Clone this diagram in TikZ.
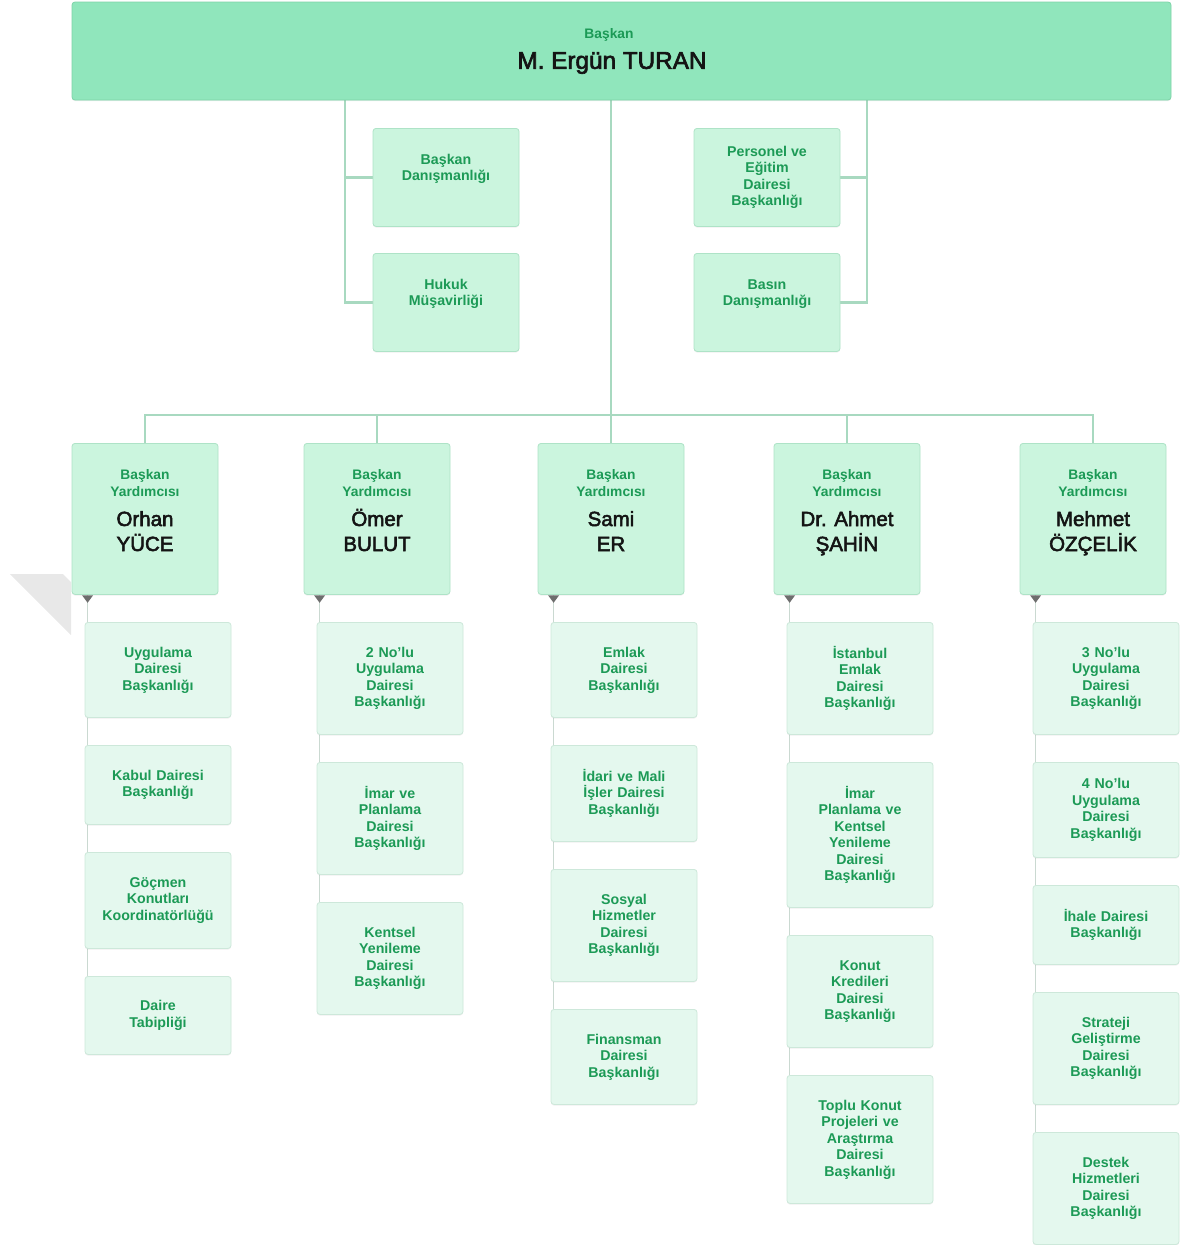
\documentclass[tikz,border=0pt]{standalone}
\usepackage{fontspec}
\setmainfont{Liberation Sans}
\newfontfamily\namefont[FakeBold=2.6]{Liberation Sans}
\usetikzlibrary{backgrounds,shadows}
\definecolor{topfill}{HTML}{90E6BC}
\definecolor{topborder}{HTML}{7DD3A8}
\definecolor{midfill}{HTML}{CBF5DE}
\definecolor{midborder}{HTML}{AEE3C7}
\definecolor{subfill}{HTML}{E4F8EE}
\definecolor{subborder}{HTML}{CDE8DA}
\definecolor{txtgreen}{HTML}{1C9A56}
\definecolor{namecol}{HTML}{141414}
\definecolor{linkcol}{HTML}{A8D9C0}
\definecolor{chaincol}{HTML}{CAD9D1}
\definecolor{tricol}{HTML}{6E6E6E}
\definecolor{ghost}{HTML}{E8E8E8}
\tikzset{
  box/.style={draw, rounded corners=3pt, line width=0.8pt, inner sep=0pt,
    drop shadow={shadow xshift=0pt, shadow yshift=-1.2pt, opacity=0.12}},
  topbox/.style={box, fill=topfill, draw=topborder, minimum width=1099pt, minimum height=98pt},
  staffbox/.style={box, fill=midfill, draw=midborder, minimum width=146pt, minimum height=98pt, anchor=north},
  vpbox/.style={box, fill=midfill, draw=midborder, minimum width=146pt, minimum height=151pt, anchor=north},
  subbox/.style={box, fill=subfill, draw=subborder, minimum width=146pt, text width=140pt,
    align=center, anchor=north, text=txtgreen, font=\bfseries\fontsize{14.2}{16.5}\selectfont},
  txt/.style={align=center, text=txtgreen, inner sep=0pt, font=\bfseries\fontsize{14.2}{16.5}\selectfont},
  smalltxt/.style={align=center, text=txtgreen, inner sep=0pt, font=\bfseries\fontsize{13.8}{16.5}\selectfont},
  nametxt/.style={align=center, text=namecol, inner sep=0pt, font=\namefont\fontsize{20.5}{25}\selectfont},
  link/.style={draw=linkcol, line width=2.5pt},
  chain/.style={draw=chaincol, line width=1.6pt},
}
\begin{document}
\begin{tikzpicture}[x=1pt, y=-1pt]
\useasboundingbox (0,0) rectangle (1185,1245);
\fill[ghost] (10,574) -- (63,574) -- (71,582) -- (71,635) -- cycle;

% top
\node[topbox] (top) at (621.5,51) {};
\node[smalltxt] (toplbl) at (609,35) {Başkan};
\node[nametxt, font=\namefont\fontsize{24.3}{28}\selectfont] (topname) at (612,63) {M. Ergün TURAN};

% staff
\node[staffbox] (bd) at (446,128) {};
\node[txt] (bdt) at (446,169) {Başkan\\Danışmanlığı};
\node[staffbox] (hk) at (446,253) {};
\node[txt] (hkt) at (446,294) {Hukuk\\Müşavirliği};
\node[staffbox] (per) at (767,128) {};
\node[txt] (pert) at (767,177.5) {Personel ve\\Eğitim\\Dairesi\\Başkanlığı};
\node[staffbox] (bas) at (767,253) {};
\node[txt] (bast) at (767,294) {Basın\\Danışmanlığı};

% VPs
\foreach \n/\x/\na/\nb in {1/145/Orhan/YÜCE, 2/377/Ömer/BULUT, 3/611/Sami/ER, 4/847/Dr. Ahmet/ŞAHİN, 5/1093/Mehmet/ÖZÇELİK}{
  \node[vpbox] (vp\n) at (\x,443) {};
  \node[smalltxt] (vpl\n) at (\x,483) {Başkan\\Yardımcısı};
  \node[nametxt, anchor=base] (vpa\n) at (\x,526) {\na};
  \node[nametxt, anchor=base] (vpb\n) at (\x,551) {\nb};
}

% column 1
\node[subbox, minimum height=95pt] (c1a) at (158,622) {Uygulama\\Dairesi\\Başkanlığı};
\node[subbox, minimum height=79pt] (c1b) at (158,745) {Kabul Dairesi\\Başkanlığı};
\node[subbox, minimum height=96pt] (c1c) at (158,852) {Göçmen\\Konutları\\Koordinatörlüğü};
\node[subbox, minimum height=78pt] (c1d) at (158,976) {Daire\\Tabipliği};
% column 2
\node[subbox, minimum height=112pt] (c2a) at (390,622) {2 No’lu\\Uygulama\\Dairesi\\Başkanlığı};
\node[subbox, minimum height=112pt] (c2b) at (390,762) {İmar ve\\Planlama\\Dairesi\\Başkanlığı};
\node[subbox, minimum height=112pt] (c2c) at (390,902) {Kentsel\\Yenileme\\Dairesi\\Başkanlığı};
% column 3
\node[subbox, minimum height=95pt] (c3a) at (624,622) {Emlak\\Dairesi\\Başkanlığı};
\node[subbox, minimum height=96pt] (c3b) at (624,745) {İdari ve Mali\\İşler Dairesi\\Başkanlığı};
\node[subbox, minimum height=112pt] (c3c) at (624,869) {Sosyal\\Hizmetler\\Dairesi\\Başkanlığı};
\node[subbox, minimum height=95pt] (c3d) at (624,1009) {Finansman\\Dairesi\\Başkanlığı};
% column 4
\node[subbox, minimum height=112pt] (c4a) at (860,622) {İstanbul\\Emlak\\Dairesi\\Başkanlığı};
\node[subbox, minimum height=145pt] (c4b) at (860,762) {İmar\\Planlama ve\\Kentsel\\Yenileme\\Dairesi\\Başkanlığı};
\node[subbox, minimum height=112pt] (c4c) at (860,935) {Konut\\Kredileri\\Dairesi\\Başkanlığı};
\node[subbox, minimum height=128pt] (c4d) at (860,1075) {Toplu Konut\\Projeleri ve\\Araştırma\\Dairesi\\Başkanlığı};
% column 5
\node[subbox, minimum height=112pt] (c5a) at (1106,622) {3 No’lu\\Uygulama\\Dairesi\\Başkanlığı};
\node[subbox, minimum height=95pt] (c5b) at (1106,762) {4 No’lu\\Uygulama\\Dairesi\\Başkanlığı};
\node[subbox, minimum height=79pt] (c5c) at (1106,885) {İhale Dairesi\\Başkanlığı};
\node[subbox, minimum height=112pt] (c5d) at (1106,992) {Strateji\\Geliştirme\\Dairesi\\Başkanlığı};
\node[subbox, minimum height=112pt] (c5e) at (1106,1132) {Destek\\Hizmetleri\\Dairesi\\Başkanlığı};

\begin{pgfonlayer}{background}
  \coordinate (lb) at (345,100);
  \coordinate (rb) at (867,100);
  \coordinate (hub) at (611,415);
  \draw[link] (lb) |- (hk.west);
  \draw[link] (lb |- bd.west) -- (bd.west);
  \draw[link] (rb) |- (bas.east);
  \draw[link] (rb |- per.east) -- (per.east);
  \draw[link] (top.south -| hub) -- (hub);
  \foreach \n in {1,...,5}{ \draw[link] (hub) -| (vp\n.north); }
  \foreach \n/\last in {1/c1d, 2/c2c, 3/c3d, 4/c4d, 5/c5e}{
    \coordinate (t\n) at ([xshift=16pt]vp\n.south west);
    \draw[chain] (t\n) -- (t\n |- \last.north);
  }
\end{pgfonlayer}
\foreach \n in {1,...,5}{
  \fill[tricol] ([xshift=-5.5pt,yshift=-0.5pt]t\n) -- ([xshift=5.5pt,yshift=-0.5pt]t\n) -- ([yshift=-8pt]t\n) -- cycle;
}
\end{tikzpicture}
\end{document}
